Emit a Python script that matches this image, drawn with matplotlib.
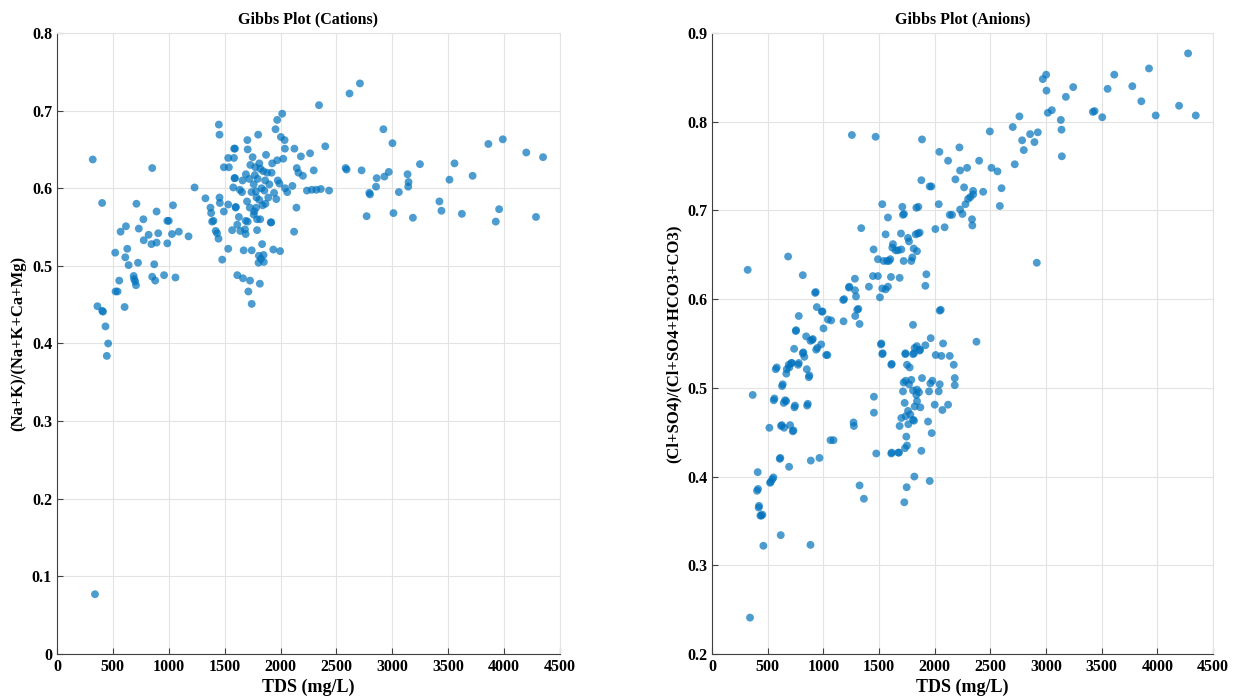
import matplotlib
matplotlib.use("Agg")
import matplotlib.pyplot as plt

# Cations panel: TDS (mg/L) and (Na+K)/(Na+K+Ca+Mg)
cat_tds = [320, 340, 362, 405, 412, 404, 434, 458, 446, 521, 524, 542, 557, 569, 605, 611, 617, 629, 641,
           686, 690, 700, 707, 711, 725, 732, 773, 776, 820, 845, 852, 852, 870, 879, 891, 891, 906, 958,
           987, 1000, 987, 1029, 1038, 1060, 1090, 1177, 1231, 1328, 1373, 1379, 1388, 1400, 1420, 1432,
           1445, 1448, 1454, 1454, 1457, 1478, 1493, 1493, 1532, 1532, 1532, 1538, 1567, 1577, 1583, 1585,
           1588, 1592, 1592, 1598, 1600, 1613, 1613, 1627, 1636, 1664, 1670, 1682, 1688, 1688, 1690, 1700,
           1703, 1706, 1706, 1712, 1720, 1727, 1730, 1742, 1742, 1760, 1770, 1775, 1780, 1782, 1790, 1800,
           1803, 1806, 1810, 1815, 1818, 1820, 1824, 1835, 1840, 1848, 1850, 1855, 1862, 1870, 1880, 1890,
           1912, 1917, 1920, 1925, 1935, 1942, 1955, 1962, 1970, 1970, 1975, 1990, 1996, 2003, 2015, 2024,
           2036, 2039, 2040, 2060, 2106, 2121, 2124, 2142, 2145, 2160, 2182, 2200, 2236, 2264, 2280, 2297,
           2320, 2344, 2360, 2400, 2434, 2582, 2591, 2617, 2710, 2725, 2770, 2794, 2800, 2854, 2860, 2920,
           2929, 2968, 3001, 3010, 3058, 3136, 3142, 3145, 3184, 3247, 3421, 3439, 3511, 3556, 3622, 3718,
           3859, 3925, 3955, 3988, 4198, 4285, 4348,
           1740, 1760, 1785, 1795, 1830, 1845, 1865, 1750, 1900, 1765, 1725, 1810, 1790, 1655, 1640, 1660]
cat_ratio = [0.637, 0.077, 0.448, 0.442, 0.441, 0.581, 0.422, 0.400, 0.384, 0.517, 0.467, 0.467, 0.481, 0.544,
             0.447, 0.511, 0.551, 0.522, 0.501, 0.487, 0.483, 0.480, 0.475, 0.580, 0.504, 0.548, 0.560, 0.533,
             0.540, 0.528, 0.626, 0.486, 0.502, 0.481, 0.570, 0.530, 0.542, 0.488, 0.558, 0.558, 0.529, 0.541,
             0.578, 0.485, 0.544, 0.538, 0.601, 0.587, 0.575, 0.568, 0.557, 0.558, 0.545, 0.542, 0.535, 0.682,
             0.669, 0.588, 0.581, 0.508, 0.570, 0.627, 0.639, 0.579, 0.522, 0.627, 0.546, 0.601, 0.639, 0.651,
             0.613, 0.651, 0.613, 0.575, 0.576, 0.553, 0.488, 0.563, 0.598, 0.484, 0.520, 0.547, 0.541, 0.558,
             0.618, 0.583, 0.662, 0.650, 0.557, 0.467, 0.612, 0.481, 0.630, 0.520, 0.451, 0.566, 0.617, 0.627,
             0.596, 0.575, 0.546, 0.669, 0.504, 0.513, 0.585, 0.477, 0.560, 0.625, 0.509, 0.528, 0.578, 0.514,
             0.505, 0.597, 0.610, 0.643, 0.620, 0.588, 0.556, 0.556, 0.620, 0.632, 0.521, 0.594, 0.676, 0.586,
             0.688, 0.636, 0.610, 0.606, 0.519, 0.666, 0.696, 0.638, 0.662, 0.651, 0.600, 0.595, 0.603, 0.544,
             0.651, 0.575, 0.626, 0.620, 0.641, 0.616, 0.597, 0.645, 0.598, 0.623, 0.598, 0.707, 0.599, 0.654,
             0.597, 0.626, 0.624, 0.722, 0.735, 0.623, 0.564, 0.594, 0.592, 0.602, 0.613, 0.676, 0.615, 0.621,
             0.658, 0.568, 0.595, 0.618, 0.602, 0.608, 0.562, 0.631, 0.583, 0.571, 0.611, 0.632, 0.567, 0.616,
             0.657, 0.557, 0.573, 0.663, 0.646, 0.563, 0.640,
             0.595, 0.605, 0.588, 0.612, 0.600, 0.622, 0.580, 0.640, 0.605, 0.570, 0.575, 0.632, 0.560, 0.595,
             0.545, 0.610]

# Anions panel: TDS (mg/L) and (Cl+SO4)/(Cl+SO4+HCO3+CO3)
an_tds = [320, 341, 365, 404, 410, 413, 419, 422, 434, 443, 452, 461, 515, 521, 527, 542, 551, 554, 560, 572,
          581, 608, 613, 617, 620, 626, 629, 635, 644, 647, 656, 665, 667, 671, 683, 689, 692, 694, 701, 713,
          716, 725, 731, 737, 740, 745, 752, 755, 773, 779, 779, 815, 815, 820, 829, 845, 851, 854, 860, 869,
          874, 884, 884, 887, 899, 905, 926, 931, 935, 941, 946, 965, 980, 986, 992, 1001, 1025, 1036, 1040,
          1064, 1070, 1091, 1178, 1181, 1186, 1229, 1233, 1256, 1271, 1274, 1283, 1284, 1286, 1293, 1304,
          1314, 1325, 1325, 1340, 1364, 1409, 1445, 1451, 1454, 1454, 1469, 1475, 1490, 1490, 1508, 1517,
          1521, 1529, 1529, 1529, 1533, 1559, 1559, 1580, 1580, 1607, 1610, 1610, 1614, 1614, 1673, 1679,
          1685, 1685, 1697, 1700, 1709, 1715, 1715, 1721, 1724, 1727, 1730, 1733, 1736, 1737, 1739, 1739,
          1745, 1748, 1751, 1751, 1760, 1763, 1769, 1775, 1781, 1790, 1805, 1805, 1805, 1805, 1814, 1814,
          1817, 1820, 1820, 1835, 1839, 1841, 1841, 1859, 1865, 1868, 1871, 1880, 1886, 1886, 1916, 1916,
          1925, 1940, 1949, 1955, 1955, 1961, 1964, 1970, 1973, 1979, 2000, 2006, 2009, 2036, 2036, 2042,
          2045, 2045, 2054, 2060, 2069, 2075, 2089, 2120, 2120, 2135, 2135, 2156, 2171, 2180, 2180, 2186,
          2222, 2228, 2228, 2249, 2264, 2276, 2291, 2300, 2320, 2335, 2338, 2345, 2345, 2375, 2399, 2435,
          2495, 2510, 2564, 2585, 2600, 2701, 2719, 2761, 2785, 2800, 2857, 2896, 2917, 2926, 2971, 3001,
          3004, 3016, 3052, 3133, 3139, 3142, 3178, 3244, 3421, 3436, 3505, 3553, 3613, 3775, 3856, 3925,
          3985, 4195, 4276, 4345,
          1541, 1571, 1589, 1601, 1625, 1619, 1649, 1670, 1700, 1721, 1760, 1769, 1790, 1799, 1811, 1829,
          1841, 1850, 1853, 1865, 1835, 1880]
an_ratio = [0.633, 0.241, 0.492, 0.384, 0.405, 0.386, 0.365, 0.367, 0.356, 0.356, 0.357, 0.322, 0.455, 0.393,
            0.394, 0.397, 0.399, 0.486, 0.488, 0.521, 0.523, 0.420, 0.421, 0.334, 0.457, 0.458, 0.502, 0.504,
            0.483, 0.455, 0.486, 0.485, 0.516, 0.521, 0.648, 0.526, 0.411, 0.523, 0.458, 0.528, 0.528, 0.451,
            0.452, 0.544, 0.478, 0.480, 0.564, 0.565, 0.526, 0.581, 0.528, 0.627, 0.539, 0.540, 0.535, 0.558,
            0.521, 0.480, 0.482, 0.512, 0.514, 0.553, 0.323, 0.418, 0.554, 0.555, 0.607, 0.608, 0.543, 0.591,
            0.545, 0.421, 0.549, 0.586, 0.586, 0.567, 0.537, 0.537, 0.577, 0.441, 0.576, 0.441, 0.599, 0.575,
            0.600, 0.613, 0.614, 0.785, 0.461, 0.457, 0.623, 0.610, 0.581, 0.603, 0.588, 0.589, 0.572, 0.390,
            0.680, 0.375, 0.614, 0.626, 0.656, 0.490, 0.472, 0.783, 0.426, 0.626, 0.645, 0.602, 0.549, 0.550,
            0.538, 0.612, 0.707, 0.539, 0.611, 0.673, 0.614, 0.692, 0.625, 0.526, 0.426, 0.527, 0.427, 0.427,
            0.427, 0.624, 0.457, 0.674, 0.466, 0.704, 0.695, 0.496, 0.506, 0.696, 0.371, 0.483, 0.432, 0.538,
            0.539, 0.508, 0.468, 0.445, 0.388, 0.526, 0.435, 0.474, 0.459, 0.504, 0.523, 0.470, 0.509, 0.538,
            0.497, 0.571, 0.464, 0.463, 0.539, 0.400, 0.545, 0.479, 0.492, 0.547, 0.485, 0.498, 0.495, 0.542,
            0.543, 0.478, 0.429, 0.511, 0.780, 0.548, 0.615, 0.628, 0.462, 0.496, 0.727, 0.395, 0.505, 0.556,
            0.727, 0.449, 0.508, 0.481, 0.679, 0.537, 0.707, 0.496, 0.766, 0.504, 0.587, 0.588, 0.536, 0.475,
            0.550, 0.681, 0.756, 0.481, 0.695, 0.536, 0.695, 0.526, 0.511, 0.503, 0.735, 0.771, 0.745, 0.701,
            0.696, 0.726, 0.707, 0.748, 0.713, 0.715, 0.690, 0.683, 0.722, 0.718, 0.552, 0.756, 0.721, 0.789,
            0.748, 0.744, 0.705, 0.725, 0.794, 0.752, 0.806, 0.779, 0.768, 0.786, 0.777, 0.641, 0.788, 0.848,
            0.853, 0.835, 0.810, 0.813, 0.802, 0.791, 0.761, 0.828, 0.839, 0.811, 0.812, 0.805, 0.837, 0.853,
            0.840, 0.823, 0.860, 0.807, 0.818, 0.877, 0.807,
            0.643, 0.643, 0.643, 0.645, 0.662, 0.658, 0.655, 0.655, 0.656, 0.643, 0.669, 0.665, 0.643, 0.647,
            0.657, 0.673, 0.654, 0.674, 0.704, 0.675, 0.703, 0.734]

plt.rcParams['font.family'] = ['Liberation Serif', 'DejaVu Serif']
plt.rcParams['font.weight'] = 'bold'

fig = plt.figure(figsize=(12.33, 6.97), dpi=100)
ax1 = fig.add_axes([0.0462, 0.0617, 0.408, 0.891])
ax2 = fig.add_axes([0.5775, 0.0617, 0.4063, 0.891])


def style_axis(ax, title, ylabel, ymin, ymax, yticks):
    ax.set_xlim(0, 4500)
    ax.set_ylim(ymin, ymax)
    ax.set_xticks(range(0, 4501, 500))
    ax.set_yticks(yticks)
    ax.set_yticklabels(["%g" % t for t in yticks])
    ax.grid(True, color='#e3e3e3', linewidth=0.8)
    ax.set_axisbelow(True)
    ax.tick_params(direction='in', length=4, width=0.8, color='#404040',
                   labelsize=11.5, top=False, right=False)
    for side in ['left', 'bottom']:
        ax.spines[side].set_color('#404040')
        ax.spines[side].set_linewidth(0.8)
    for side in ['top', 'right']:
        ax.spines[side].set_color('#e3e3e3')
        ax.spines[side].set_linewidth(0.8)
    ax.set_title(title, fontsize=11.5, fontweight='bold', pad=7)
    ax.set_xlabel('TDS (mg/L)', fontsize=13, fontweight='bold', labelpad=3)
    ax.set_ylabel(ylabel, fontsize=12, fontweight='bold', labelpad=4)


ax1.scatter(cat_tds, cat_ratio, s=32, color='#0072BD', alpha=0.7, edgecolors='none')
style_axis(ax1, 'Gibbs Plot (Cations)', '(Na+K)/(Na+K+Ca+Mg)', 0, 0.8,
           [0, 0.1, 0.2, 0.3, 0.4, 0.5, 0.6, 0.7, 0.8])

ax2.scatter(an_tds, an_ratio, s=32, color='#0072BD', alpha=0.7, edgecolors='none')
style_axis(ax2, 'Gibbs Plot (Anions)', '(Cl+SO4)/(Cl+SO4+HCO3+CO3)', 0.2, 0.9,
           [0.2, 0.3, 0.4, 0.5, 0.6, 0.7, 0.8, 0.9])

fig.savefig('out.png', dpi=100)
